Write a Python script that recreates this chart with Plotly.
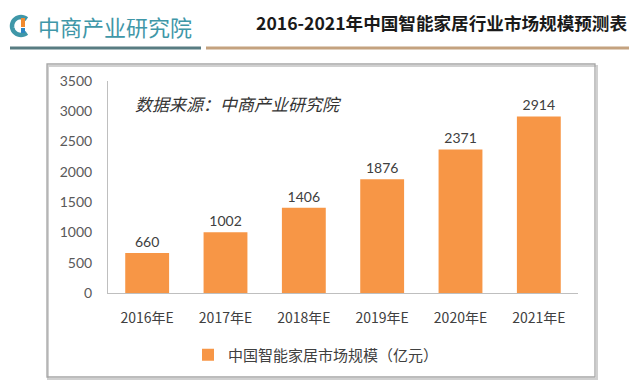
import math
import plotly.graph_objects as go

categories = ["2016年E", "2017年E", "2018年E", "2019年E", "2020年E", "2021年E"]
values = [660, 1002, 1406, 1876, 2371, 2914]
series_name = "中国智能家居市场规模（亿元）"
y_ticks = [0, 500, 1000, 1500, 2000, 2500, 3000, 3500]
title_text = "2016-2021年中国智能家居行业市场规模预测表"
logo_text = "中商产业研究院"
source_text = "数据来源：中商产业研究院"

W_PX, H_PX = 640, 389
L, R, T, B = 108, 578, 81, 293
PW, PH = R - L, B - T


def px(x):
    return (x - L) / PW


def py(y):
    return (B - y) / PH


CJK = "Noto Sans CJK SC"
NUM = "Lato, Noto Sans CJK SC"
BAR_COLOR = "#F79646"
TXT = "#404040"
TEAL = "#3f97a8"

fig = go.Figure()
fig.add_trace(go.Bar(
    x=categories, y=values, name=series_name,
    marker=dict(color=BAR_COLOR, line=dict(width=0)),
    texttemplate="%{y}", textposition="outside",
    textfont=dict(family=NUM, size=14, color=TXT),
    cliponaxis=False,
))

shapes = []
# chart frame shadow + frame
shapes.append(dict(type="rect", xref="paper", yref="paper",
                   x0=px(48), x1=px(597), y0=py(66), y1=py(379),
                   line=dict(color="#d0d0d0", width=2), layer="below"))
shapes.append(dict(type="rect", xref="paper", yref="paper",
                   x0=px(47), x1=px(595), y0=py(64), y1=py(377),
                   line=dict(color="#a6a6a6", width=1.3), fillcolor="rgba(0,0,0,0)", layer="below"))
# header lines
shapes.append(dict(type="line", xref="paper", yref="paper",
                   x0=px(10), x1=px(201), y0=py(48), y1=py(48),
                   line=dict(color="#587c82", width=3)))
shapes.append(dict(type="line", xref="paper", yref="paper",
                   x0=px(206), x1=px(629), y0=py(48), y1=py(48),
                   line=dict(color="#c4a27f", width=3)))

# logo icon: teal "C" (polyline arc) and inner pieces
arc_pts = []
for deg in range(50, 311, 10):
    a = math.radians(deg)
    arc_pts.append((9 * math.cos(a), 9 * math.sin(a)))
arc_path = "M " + " L ".join(f"{x:.2f},{y:.2f}" for x, y in arc_pts)
icon_anchor = dict(xref="paper", yref="paper", xsizemode="pixel", ysizemode="pixel",
                   xanchor=px(21), yanchor=py(26))
shapes.append(dict(type="path", path=arc_path, line=dict(color=TEAL, width=4.5), **icon_anchor))
shapes.append(dict(type="path", path="M 0,8 L 4,8 L 4,-1 L 0,-1 Z",
                   fillcolor="#f08a30", line=dict(width=0), **icon_anchor))
shapes.append(dict(type="path", path="M 0,-2 L 4,-2 L 4,-7 L 0,-7 Z",
                   fillcolor="#2b86c4", line=dict(width=0), **icon_anchor))

annotations = [
    dict(text=title_text, xref="paper", yref="paper", x=px(629), y=py(23),
         xanchor="right", yanchor="middle", showarrow=False,
         font=dict(family=CJK, size=17.6, color="#1a1a1a", weight="bold")),
    dict(text=logo_text, xref="paper", yref="paper", x=px(36), y=py(26),
         xanchor="left", yanchor="middle", showarrow=False,
         font=dict(family=CJK, size=22, color=TEAL)),
    dict(text=source_text, xref="paper", yref="paper", x=px(133), y=py(103),
         xanchor="left", yanchor="middle", showarrow=False,
         font=dict(family=CJK, size=17, color="#333333", style="italic")),
]

fig.update_layout(
    width=W_PX, height=H_PX,
    margin=dict(l=L, r=W_PX - R, t=T, b=H_PX - B, pad=0),
    paper_bgcolor="white", plot_bgcolor="white",
    bargap=0.44,
    showlegend=True,
    legend=dict(orientation="h", x=px(188), y=py(355), xanchor="left", yanchor="middle",
                font=dict(family=CJK, size=15, color=TXT), bgcolor="rgba(0,0,0,0)",
                itemwidth=30),
    shapes=shapes, annotations=annotations,
    xaxis=dict(showgrid=False, showline=True, linecolor="#bfbfbf", linewidth=1,
               ticks="", tickfont=dict(family=CJK, size=14, color=TXT),
               ticklabelstandoff=12, fixedrange=True),
    yaxis=dict(range=[0, 3500], tickvals=y_ticks, showgrid=False, zeroline=False,
               showline=True, linecolor="#bfbfbf", linewidth=1, ticks="",
               tickfont=dict(family=NUM, size=14, color="#595959"),
               ticklabelstandoff=12, fixedrange=True),
)

fig.write_html("out.html", config={"displayModeBar": False},
               post_script="document.body.style.margin='0';")
